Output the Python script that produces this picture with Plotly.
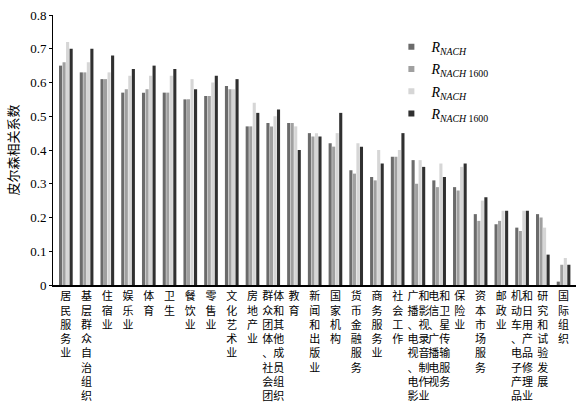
import plotly.graph_objects as go

categories = [
    "居民服务业", "基层群众自治组织", "住宿业", "娱乐业", "体育", "卫生", "餐饮业",
    "零售业", "文化艺术业", "房地产业", "群众团体、社会团体和其他成员组织", "教育",
    "新闻和出版业", "国家机构", "货币金融服务", "商务服务业", "社会工作",
    "广播、电视、电影和影视录音制作业", "电信、广播电视和卫星传输服务", "保险业",
    "资本市场服务", "邮政业", "机动车、电子产品和日用产品修理业", "研究和试验发展", "国际组织",
]

# vertical tick-label columns (read top-to-bottom, left column first)
label_columns = [
    ["居民服务业"], ["基层群众自治组织"], ["住宿业"], ["娱乐业"], ["体育"], ["卫生"],
    ["餐饮业"], ["零售业"], ["文化艺术业"], ["房地产业"],
    ["群众团体、社会团", "体和其他成员组织"], ["教育"], ["新闻和出版业"], ["国家机构"],
    ["货币金融服务"], ["商务服务业"], ["社会工作"],
    ["广播、电视、电影", "和影视录音制作业"], ["电信、广播电视", "和卫星传输服务"],
    ["保险业"], ["资本市场服务"], ["邮政业"],
    ["机动车、电子产品", "和日用产品修理业"], ["研究和试验发展"], ["国际组织"],
]

r_nach = [0.65, 0.63, 0.61, 0.57, 0.57, 0.57, 0.55, 0.56, 0.59, 0.47, 0.48, 0.48, 0.45,
          0.42, 0.34, 0.32, 0.38, 0.37, 0.31, 0.29, 0.21, 0.18, 0.17, 0.21, 0.01]
r_nach1600 = [0.66, 0.63, 0.61, 0.58, 0.58, 0.57, 0.55, 0.56, 0.58, 0.47, 0.47, 0.48, 0.44,
              0.41, 0.33, 0.31, 0.38, 0.30, 0.29, 0.28, 0.19, 0.19, 0.16, 0.20, 0.06]
rbar_nach = [0.72, 0.66, 0.63, 0.62, 0.62, 0.62, 0.61, 0.60, 0.58, 0.54, 0.50, 0.47, 0.45,
             0.45, 0.42, 0.40, 0.40, 0.37, 0.36, 0.35, 0.25, 0.22, 0.22, 0.17, 0.08]
rbar_nach1600 = [0.70, 0.70, 0.68, 0.64, 0.65, 0.64, 0.58, 0.62, 0.61, 0.51, 0.52, 0.40, 0.44,
                 0.51, 0.41, 0.36, 0.45, 0.35, 0.32, 0.36, 0.26, 0.22, 0.22, 0.09, 0.06]

series_names = [
    "<i>R</i><sub><i>NACH</i></sub>",
    "<i>R</i><sub><i>NACH</i> 1600</sub>",
    "<i>R</i><sub><i>NACH</i></sub>",
    "<i>R</i><sub><i>NACH</i> 1600</sub>",
]
series_values = [r_nach, r_nach1600, rbar_nach, rbar_nach1600]
series_colors = ["#6b6b6b", "#a0a0a0", "#d6d6d6", "#303030"]

y_ticks = [0, 0.1, 0.2, 0.3, 0.4, 0.5, 0.6, 0.7, 0.8]
y_ticktext = ["0", "0.1", "0.2", "0.3", "0.4", "0.5", "0.6", "0.7", "0.8"]


def vertical_label(cols):
    n = max(len(c) for c in cols)
    rows = []
    for i in range(n):
        rows.append("".join(c[i] if i < len(c) else "\u3000" for c in cols))
    return "<br>".join(rows)


ticktext = [vertical_label(c) for c in label_columns]
x_idx = list(range(len(categories)))

fig = go.Figure()
for name, vals, col in zip(series_names, series_values, series_colors):
    fig.add_trace(go.Bar(x=x_idx, y=vals, name=name, marker=dict(color=col, line=dict(width=0)),
                         showlegend=False, hovertext=categories))
for i, (name, col) in enumerate(zip(series_names, series_colors)):
    fig.add_trace(go.Scatter(x=[None], y=[None], mode="markers", name=name,
                             legendgroup=f"g{i}",
                             marker=dict(symbol="square", size=6, color=col)))

fig.update_layout(
    width=580, height=416,
    margin=dict(l=53, r=4, t=15, b=131),
    paper_bgcolor="white", plot_bgcolor="white",
    barmode="group", bargap=0.32, bargroupgap=0.12,
    font=dict(family="Liberation Serif", color="black", size=13),
    legend=dict(x=0.647, y=0.94, xanchor="left", yanchor="top",
                font=dict(family="Liberation Serif", size=14, color="black"),
                bgcolor="rgba(0,0,0,0)", tracegroupgap=1, itemwidth=30),
    xaxis=dict(
        tickmode="array", tickvals=x_idx, ticktext=ticktext,
        range=[-0.62, 24.6], showgrid=False, zeroline=False,
        showline=True, linecolor="black", linewidth=2, ticks="",
        tickangle=0, automargin=False,
        tickfont=dict(family="Noto Sans CJK SC", size=11, color="black"),
    ),
    yaxis=dict(
        range=[0, 0.8], tickmode="array", tickvals=y_ticks, ticktext=y_ticktext,
        showgrid=False, zeroline=False, showline=True, linecolor="black", linewidth=1,
        ticks="outside", ticklen=3, tickcolor="black", automargin=False,
        tickfont=dict(family="Liberation Serif", size=13, color="black"),
        title=dict(text="皮尔森相关系数", standoff=8,
                   font=dict(family="Noto Sans CJK SC", size=13, color="black")),
    ),
)

fig.write_html("out.html", config={"displayModeBar": False},
               post_script="document.body.style.margin='0px';")
